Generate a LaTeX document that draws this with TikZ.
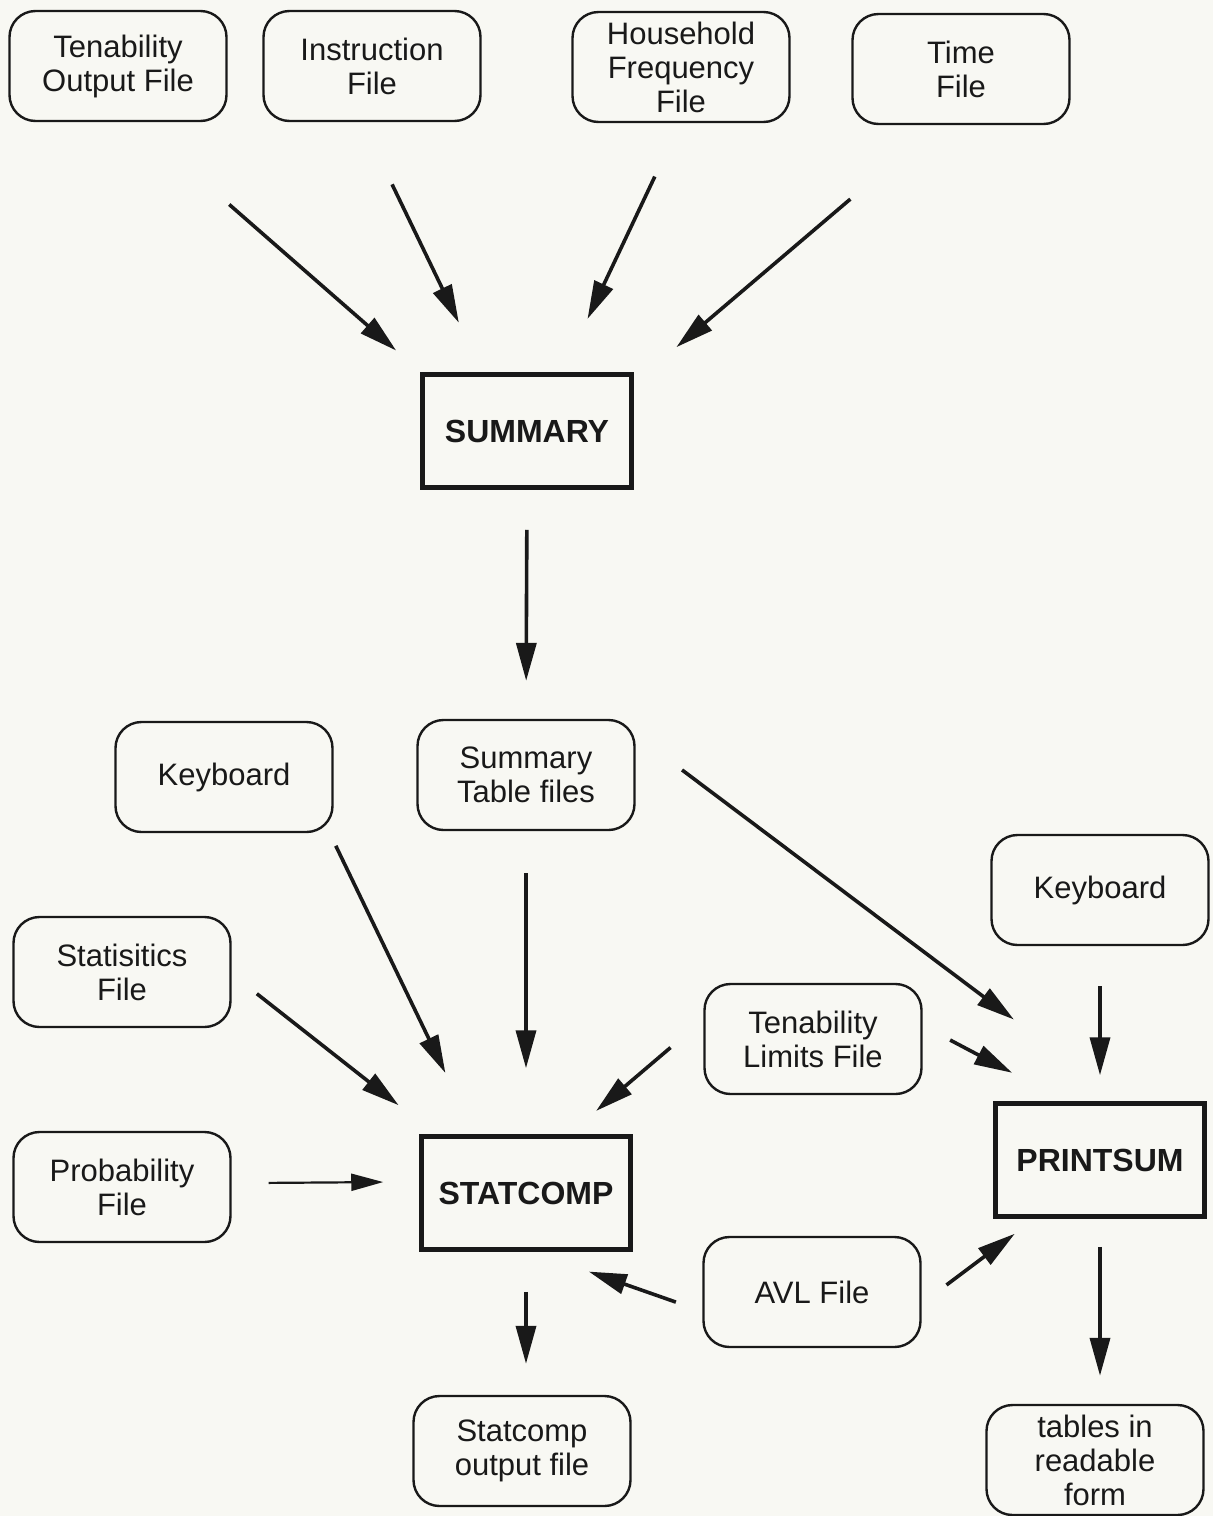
\documentclass[tikz,border=0pt]{standalone}
\usepackage{fontspec}
\setmainfont{Liberation Sans}
\usetikzlibrary{arrows.meta}
\definecolor{paper}{RGB}{248,248,243}
\definecolor{ink}{RGB}{25,25,25}

\begin{document}
\begin{tikzpicture}[x=1pt,y=-1pt]

      \fill[paper] (0,0) rectangle (1213,1516);
      \useasboundingbox (0,0) rectangle (1213,1516);

      % files
      \begin{scope}[every node/.style={draw=ink, text=ink, rounded corners=26pt, line width=2.4pt,
          minimum width=217pt, minimum height=110pt, inner sep=0pt, align=center,
          font=\fontsize{31}{34}\selectfont}]
        \node (tof) at (118,66)   {Tenability\\Output File};
        \node (ins) at (372,66)   {Instruction\\File};
        \node (hhf) at (681,67)   {Household\\Frequency\\File};
        \node (tim) at (961,69)   {Time\\File};
        \node (stf) at (526,775)  {Summary\\Table files};
        \node (kb1) at (224,777)  {Keyboard};
        \node (kb2) at (1100,890) {Keyboard};
        \node (sta) at (122,972)  {Statisitics\\File};
        \node (tlf) at (813,1039) {Tenability\\Limits File};
        \node (pro) at (122,1187) {Probability\\File};
        \node (avl) at (812,1292) {AVL File};
        \node (sof) at (522,1451) {Statcomp\\output file};
        \node (tab) at (1095,1460) {tables in\\readable\\form};
      \end{scope}

      % programs
      \begin{scope}[every node/.style={draw=ink, text=ink, line width=4.5pt,
          minimum width=209pt, minimum height=113pt, inner sep=0pt,
          font=\fontsize{32}{36}\selectfont\bfseries}]
        \node (sum) at (527,431)   {SUMMARY};
        \node (stc) at (526,1193)  {STATCOMP};
        \node (prs) at (1100,1160) {PRINTSUM};
      \end{scope}

      \begin{scope}[every edge/.style={draw=ink, line width=3.6pt,
          -{Triangle[length=38pt,width=20pt]}}]
        \path (tof.-73.5)  edge[shorten <=125pt, shorten >=33pt] (sum.151.7);
        \path (ins.-100.3) edge[shorten <=69pt, shorten >=55pt] (sum.127.5);
        \path (hhf.-91)    edge[shorten <=59pt, shorten >=59pt] (sum.59.5);
        \path (tim.-113.6) edge[shorten <=114pt, shorten >=56pt] (sum.24.3);
        \path (sum.south)  edge[shorten <=40pt, shorten >=38pt] (stf.north);
        \path (stf.20.2)   edge[shorten <=58pt, shorten >=136pt] (prs.69.4);
        \path (kb1.-28.7)  edge[shorten <=14pt, shorten >=68pt] (stc.131.7);
        \path (stf.south)  edge[shorten <=42pt, shorten >=66pt] (stc.north);
        \path (sta.-1.8)   edge[shorten <=32pt, shorten >=47pt] (stc.147.9);
        \path (tlf.170.3)  edge[shorten <=43pt, shorten >=36pt] (stc.54.7);
        \path (tlf.7.1)    edge[shorten <=31pt, shorten >=61pt] (prs.120.5);
        \path (kb2.south)  edge[shorten <=40pt, shorten >=26pt] (prs.north);
        \path (pro.2.1)    edge[line width=2.2pt, -{Triangle[length=32pt,width=17pt]},
                                shorten <=37pt, shorten >=36pt] (stc.174.6);
        \path (avl.190.1)  edge[shorten <=28pt, shorten >=60pt] (stc.-84);
        \path (avl.-6.3)   edge[shorten <=31pt, shorten >=25pt] (prs.-138.8);
        \path (stc.south)  edge[shorten <=40pt, shorten >=31pt] (stc.south |- sof.north);
        \path (prs.south)  edge[shorten <=28pt, shorten >=28pt] (prs.south |- tab.north);
      \end{scope}

    \end{tikzpicture}
\end{document}
